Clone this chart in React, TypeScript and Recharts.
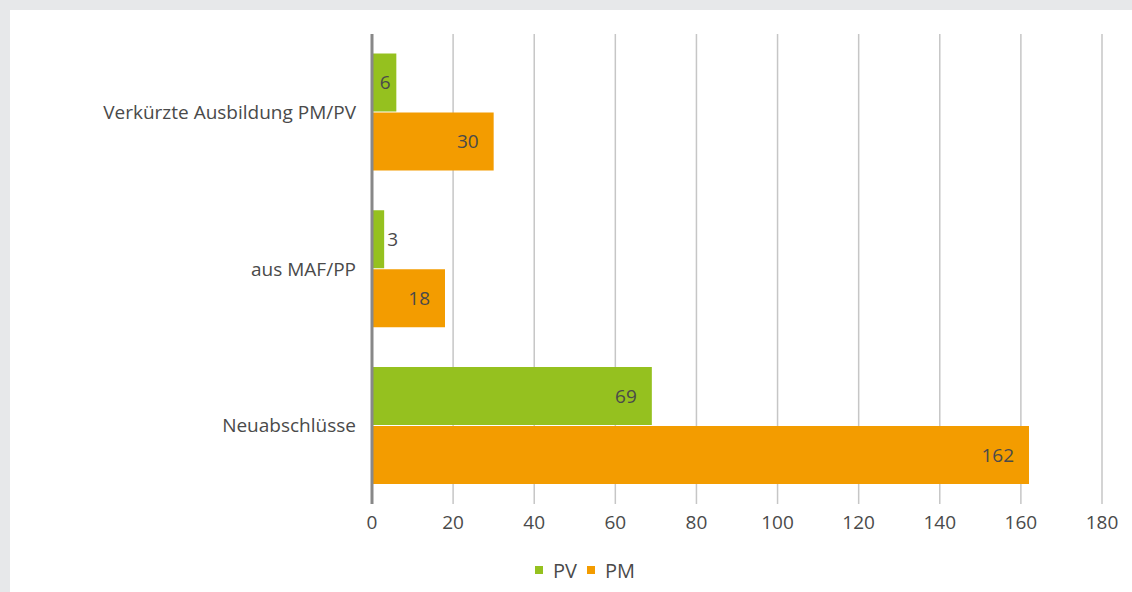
import { BarChart, Bar, XAxis, YAxis, CartesianGrid, Legend, LabelList } from 'recharts';

const categories = ['Verkürzte Ausbildung PM/PV', 'aus MAF/PP', 'Neuabschlüsse'];
const pvValues = [6, 3, 69];
const pmValues = [30, 18, 162];
const xTicks = [0, 20, 40, 60, 80, 100, 120, 140, 160, 180];
const seriesNames = ['PV', 'PM'];

const GREEN = '#95c11f';
const ORANGE = '#f39c00';
const TEXT = '#4a4a4a';
const FONT = '"Open Sans", "Noto Sans", sans-serif';

const data = categories.map((name, i) => ({ name, PV: pvValues[i], PM: pmValues[i] }));

// value label: right-aligned inside the bar when it fits, else just past the end
function BarValue(props: any) {
  const { x, y, width, height, value } = props;
  const cy = y + height / 2;
  let tx = x + width - 15;
  let anchor: 'end' | 'middle' | 'start' = 'end';
  if (width < 16) {
    tx = x + width + 3;
    anchor = 'start';
  } else if (width < 40) {
    tx = x + width / 2 + 1;
    anchor = 'middle';
  }
  return (
    <text x={tx} y={cy} dy="0.35em" textAnchor={anchor} fill={TEXT} fontSize={19} fontFamily={FONT}>
      {value}
    </text>
  );
}

function LegendBox() {
  const colors = [GREEN, ORANGE];
  return (
    <div
      style={{
        display: 'flex',
        justifyContent: 'center',
        alignItems: 'center',
        height: 28,
        paddingLeft: 68,
        fontFamily: FONT,
        fontSize: 20,
        color: TEXT,
      }}
    >
      {seriesNames.map((s, i) => (
        <span key={s} style={{ display: 'flex', alignItems: 'center', marginRight: 10 }}>
          <span style={{ width: 8, height: 8, background: colors[i], marginRight: 10, display: 'inline-block' }} />
          {s}
        </span>
      ))}
    </div>
  );
}

export default function App() {
  return (
    <div style={{ position: 'fixed', inset: 0, background: '#e7e8ea' }}>
      <div style={{ position: 'absolute', left: 10, top: 10, width: 1122, height: 582, background: '#fff' }}>
        <BarChart
          width={1122}
          height={582}
          data={data}
          layout="vertical"
          margin={{ top: 24, right: 30, left: 0, bottom: 8 }}
          barCategoryGap="12.5%"
          barGap={1}
        >
          <CartesianGrid horizontal={false} stroke="#c6c6c6" strokeWidth={1.5} />
          <XAxis
            type="number"
            domain={[0, 180]}
            ticks={xTicks}
            axisLine={false}
            tickLine={false}
            tickSize={0}
            tickMargin={12}
            height={52}
            tick={{ fill: TEXT, fontSize: 19, fontFamily: FONT }}
          />
          <YAxis
            type="category"
            dataKey="name"
            width={362}
            axisLine={{ stroke: '#888', strokeWidth: 3 }}
            tickLine={false}
            tickSize={0}
            tickMargin={16}
            tick={{ fill: TEXT, fontSize: 19, fontFamily: FONT }}
          />
          <Legend verticalAlign="bottom" height={28} content={<LegendBox />} />
          <Bar dataKey="PV" fill={GREEN} isAnimationActive={false}>
            <LabelList dataKey="PV" content={<BarValue />} />
          </Bar>
          <Bar dataKey="PM" fill={ORANGE} isAnimationActive={false}>
            <LabelList dataKey="PM" content={<BarValue />} />
          </Bar>
        </BarChart>
      </div>
    </div>
  );
}
